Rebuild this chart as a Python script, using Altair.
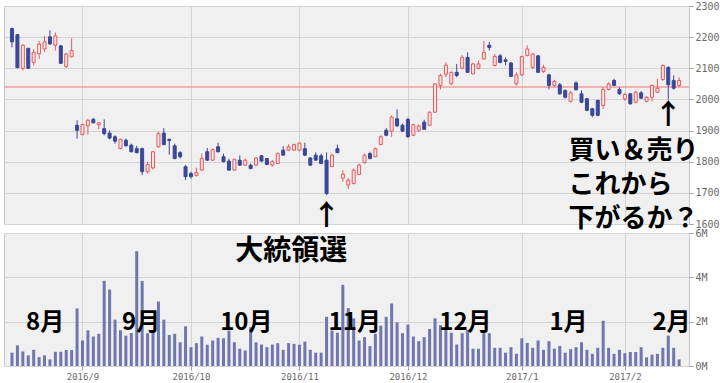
import altair as alt
import pandas as pd

# Daily OHLC (yen) for each trading session, Aug 15 2016 - Feb 15 2017
opens = [2228, 2208, 2100, 2164, 2119, 2146, 2162, 2201, 2174, 2172, 2106, 2137,
         1917, 1887, 1915, 1936, 1919, 1906, 1892, 1880, 1842, 1869, 1853, 1842,
         1842, 1768, 1780, 1848, 1892, 1872, 1851, 1829, 1784, 1762, 1755, 1773,
         1832, 1805, 1848, 1816, 1802, 1773, 1805, 1789, 1789, 1789, 1819, 1810,
         1789, 1794, 1837, 1837, 1837, 1837, 1842, 1812, 1821, 1819, 1805, 1784,
         1842, 1747, 1725, 1730, 1759, 1797, 1826, 1816, 1855, 1901, 1898, 1938,
         1917, 1936, 1885, 1901, 1927, 1917, 1959, 2045, 2081, 2050, 2087, 2100,
         2135, 2082, 2100, 2130, 2174, 2109, 2140, 2127, 2117, 2050, 2079, 2141,
         2103, 2140, 2090, 2079, 2045, 2047, 2029, 1994, 2053, 2018, 2002, 1970,
         1997, 1981, 2032, 2061, 2032, 2002, 2018, 1991, 2021, 1994, 2007, 2023,
         2064, 2103, 2061, 2045]
highs = [2230, 2210, 2177, 2166, 2162, 2188, 2204, 2222, 2215, 2175, 2150, 2196,
         1933, 1922, 1938, 1941, 1927, 1936, 1901, 1885, 1874, 1874, 1858, 1851,
         1845, 1800, 1834, 1896, 1908, 1874, 1858, 1834, 1789, 1768, 1781, 1826,
         1844, 1842, 1861, 1826, 1810, 1808, 1820, 1810, 1794, 1815, 1822, 1812,
         1805, 1830, 1850, 1856, 1858, 1862, 1861, 1815, 1830, 1826, 1830, 1826,
         1855, 1773, 1747, 1778, 1794, 1826, 1832, 1845, 1885, 1908, 1949, 1968,
         1922, 1941, 1922, 1920, 1935, 1961, 2052, 2082, 2119, 2090, 2114, 2142,
         2151, 2118, 2125, 2188, 2185, 2146, 2146, 2135, 2121, 2087, 2140, 2173,
         2148, 2143, 2111, 2082, 2063, 2053, 2032, 2027, 2058, 2029, 2005, 1973,
         1999, 2039, 2055, 2066, 2039, 2021, 2021, 2027, 2027, 2010, 2048, 2066,
         2112, 2106, 2077, 2071]
lows = [2167, 2100, 2093, 2098, 2109, 2130, 2153, 2176, 2157, 2114, 2101, 2135,
        1874, 1885, 1887, 1923, 1904, 1885, 1872, 1858, 1840, 1849, 1830, 1827,
        1757, 1762, 1775, 1845, 1853, 1823, 1808, 1810, 1741, 1746, 1753, 1771,
        1803, 1803, 1830, 1798, 1771, 1771, 1787, 1786, 1776, 1786, 1800, 1789,
        1784, 1794, 1821, 1834, 1837, 1834, 1818, 1786, 1805, 1794, 1693, 1784,
        1829, 1736, 1712, 1727, 1757, 1794, 1808, 1816, 1853, 1882, 1880, 1912,
        1895, 1877, 1882, 1895, 1904, 1915, 1957, 2032, 2071, 2047, 2071, 2097,
        2085, 2080, 2097, 2128, 2157, 2106, 2116, 2109, 2072, 2045, 2074, 2138,
        2098, 2085, 2085, 2032, 2040, 2015, 2003, 1990, 2029, 1988, 1962, 1943,
        1946, 1970, 2029, 2045, 2015, 1995, 1983, 1988, 2002, 1991, 1994, 2021,
        2060, 2000, 2032, 2040]
closes = [2185, 2102, 2174, 2100, 2151, 2178, 2185, 2178, 2204, 2116, 2146, 2157,
          1901, 1919, 1933, 1925, 1925, 1890, 1876, 1866, 1872, 1851, 1832, 1829,
          1768, 1791, 1832, 1890, 1855, 1868, 1810, 1816, 1752, 1752, 1765, 1810,
          1805, 1839, 1832, 1800, 1773, 1808, 1789, 1805, 1778, 1812, 1802, 1791,
          1800, 1826, 1821, 1848, 1855, 1860, 1821, 1789, 1805, 1794, 1698, 1821,
          1829, 1760, 1741, 1773, 1789, 1821, 1810, 1842, 1880, 1885, 1943, 1915,
          1898, 1880, 1919, 1915, 1904, 1959, 2050, 2077, 2110, 2087, 2077, 2135,
          2087, 2114, 2114, 2151, 2167, 2138, 2119, 2122, 2074, 2079, 2138, 2162,
          2146, 2087, 2103, 2045, 2058, 2018, 2007, 2021, 2031, 1991, 1965, 1949,
          1949, 2032, 2050, 2045, 2018, 2016, 1986, 2023, 2004, 2007, 2045, 2036,
          2109, 2047, 2036, 2061]
# Traded volume, millions of shares
volumes_m = [0.60, 0.93, 0.66, 0.48, 0.73, 0.40, 0.48, 0.30, 0.64, 0.64, 0.72, 0.72,
             2.60, 1.15, 1.61, 1.33, 1.45, 3.84, 3.45, 2.09, 1.61, 1.37, 1.49, 5.18,
             3.84, 1.48, 1.50, 2.91, 2.09, 1.40, 1.45, 1.07, 1.79, 0.85, 1.03, 1.33,
             0.96, 1.15, 1.27, 1.25, 1.60, 1.07, 0.78, 0.70, 1.75, 1.07, 0.97, 0.85,
             0.97, 1.03, 0.73, 1.03, 1.00, 0.96, 1.10, 0.73, 0.60, 0.60, 2.22, 1.60,
             1.50, 3.66, 2.61, 2.15, 1.15, 1.30, 0.90, 1.45, 1.82, 2.22, 2.82, 1.97,
             1.48, 1.87, 1.33, 1.12, 1.30, 1.67, 2.15, 1.85, 1.75, 1.50, 0.97, 1.48,
             1.63, 0.78, 0.78, 1.48, 1.48, 0.82, 0.82, 0.60, 0.85, 0.55, 1.25, 1.04,
             0.82, 1.15, 0.73, 1.12, 0.78, 0.90, 0.60, 0.76, 0.85, 1.07, 0.73, 0.55,
             0.82, 2.04, 0.82, 0.55, 0.73, 0.58, 0.63, 0.63, 0.85, 0.39, 0.51, 0.55,
             0.82, 1.37, 0.82, 0.30]

# First trading session of each month and its axis label
month_start_sessions = [13, 33, 53, 73, 94, 113]
month_tick_labels = ["2016/9", "2016/10", "2016/11", "2016/12", "2017/1", "2017/2"]
price_ticks = [1600, 1700, 1800, 1900, 2000, 2100, 2200, 2300]
volume_ticks = [0, 2000000, 4000000, 6000000]
reference_price = 2040

# Month names written over the volume panel
month_names = ["8月", "9月", "10月", "11月", "12月", "1月", "2月"]
month_name_sessions = [6.1, 23.8, 43.2, 63.2, 83.6, 102.6, 121.6]

UP_LINE = "#e25a5c"
UP_FILL = "#fbe6e6"
DOWN = "#3b4797"
VOL = "#6f76b0"
JP_FONT = "Noto Sans CJK JP"
AXIS_FONT = "DejaVu Sans Mono"

df = pd.DataFrame({
    "session": list(range(len(opens))),
    "open": opens, "high": highs, "low": lows, "close": closes,
    "volume": [v * 1_000_000 for v in volumes_m],
})
df["dir"] = ["up" if c >= o else "down" for o, c in zip(opens, closes)]

x_scale = alt.Scale(domain=[-0.55, 123.9], nice=False, zero=False)
label_expr = ("[" + ",".join(f"'{t}'" for t in month_tick_labels) + "]"
              "[indexof([" + ",".join(str(s) for s in month_start_sessions) + "], datum.value)]")

# Every layer of a panel carries the very same axis definition so they merge cleanly
x_top_axis = alt.Axis(values=month_start_sessions, labels=False, ticks=False,
                      domain=False, title=None, grid=True)
x_bottom_axis = alt.Axis(values=month_start_sessions, labelExpr=label_expr,
                         domain=False, title=None, grid=True, tickSize=4,
                         labelFontSize=9, labelPadding=2, labelOverlap=False)

price_scale = alt.Scale(domain=[1600, 2300], nice=False, zero=False)
price_axis = alt.Axis(orient="right", values=price_ticks, title=None, domain=False,
                      grid=True, tickSize=4, format="d", labelOverlap=False,
                      labelFlush=False)

vol_scale = alt.Scale(domain=[0, 6000000], nice=False)
vol_axis = alt.Axis(orient="right", values=volume_ticks, title=None, domain=False, grid=True,
                    tickSize=4, labelOverlap=False, labelFlush=False,
                    labelExpr="format(datum.value / 1000000, 'd') + 'M'")


def px(field="session"):
    return alt.X(f"{field}:Q", scale=x_scale, axis=x_top_axis)


def py(field):
    return alt.Y(f"{field}:Q", scale=price_scale, axis=price_axis)


def vx(field="session"):
    return alt.X(f"{field}:Q", scale=x_scale, axis=x_bottom_axis)


def vy(field):
    return alt.Y(f"{field}:Q", scale=vol_scale, axis=vol_axis)


base = alt.Chart(df)

ref_line = alt.Chart(pd.DataFrame({"price": [reference_price]})).mark_rule(
    color="#f29c9c", strokeWidth=1.5
).encode(y=py("price"))

wick = base.mark_rule(strokeWidth=1).encode(
    x=px(),
    y=py("low"),
    y2="high:Q",
    color=alt.Color("dir:N", scale=alt.Scale(domain=["up", "down"], range=[UP_LINE, DOWN]),
                    legend=None),
)
body = base.mark_bar(size=3, strokeWidth=1).encode(
    x=px(),
    y=py("open"),
    y2="close:Q",
    fill=alt.Fill("dir:N", scale=alt.Scale(domain=["up", "down"], range=[UP_FILL, DOWN]),
                  legend=None),
    stroke=alt.Stroke("dir:N", scale=alt.Scale(domain=["up", "down"], range=[UP_LINE, DOWN]),
                      legend=None),
)

arrows = alt.Chart(pd.DataFrame({
    "session": [58, 121], "price": [1622, 1947], "text": ["↑", "↑"],
})).mark_text(font=JP_FONT, fontSize=28, fontWeight="bold", color="black",
              baseline="middle").encode(x=px(), y=py("price"), text="text:N")

note = alt.Chart(pd.DataFrame({
    "session": [102.6, 102.6, 102.6],
    "price": [1834, 1726, 1615],
    "text": ["買い＆売り", "これから", "下がるか？"],
})).mark_text(font=JP_FONT, fontSize=26, fontWeight="bold", color="black",
              align="left", baseline="middle").encode(x=px(), y=py("price"), text="text:N")

price_panel = alt.layer(ref_line, wick, body, arrows, note).properties(width=685, height=218)

vol_bars = base.mark_bar(size=3, color=VOL).encode(x=vx(), y=vy("volume"))

month_text = alt.Chart(pd.DataFrame({
    "session": month_name_sessions,
    "volume": [1950000] * len(month_names),
    "text": month_names,
})).mark_text(font=JP_FONT, fontSize=24, fontWeight="bold", color="black",
              baseline="middle").encode(x=vx(), y=vy("volume"), text="text:N")

election = alt.Chart(pd.DataFrame({
    "session": [51.5], "volume": [5130000], "text": ["大統領選"],
})).mark_text(font=JP_FONT, fontSize=28, fontWeight="bold", color="black",
              baseline="middle").encode(x=vx(), y=vy("volume"), text="text:N")

volume_panel = alt.layer(vol_bars, month_text, election).properties(width=685, height=133)

chart = alt.vconcat(price_panel, volume_panel, spacing=9, bounds="flush").properties(
    padding={"left": 2, "top": 0, "right": 0, "bottom": 0},
    background="white",
).configure_view(
    fill="#f0f0f0", stroke="#c6c6c6", strokeWidth=1,
).configure_axis(
    gridColor="#d3d3d3", gridWidth=1, tickColor="#a0a0a0",
    labelFont=AXIS_FONT, labelFontSize=10, labelColor="#6a6a6a",
)

chart.save("out.html", embed_options={"renderer": "svg", "actions": False})
